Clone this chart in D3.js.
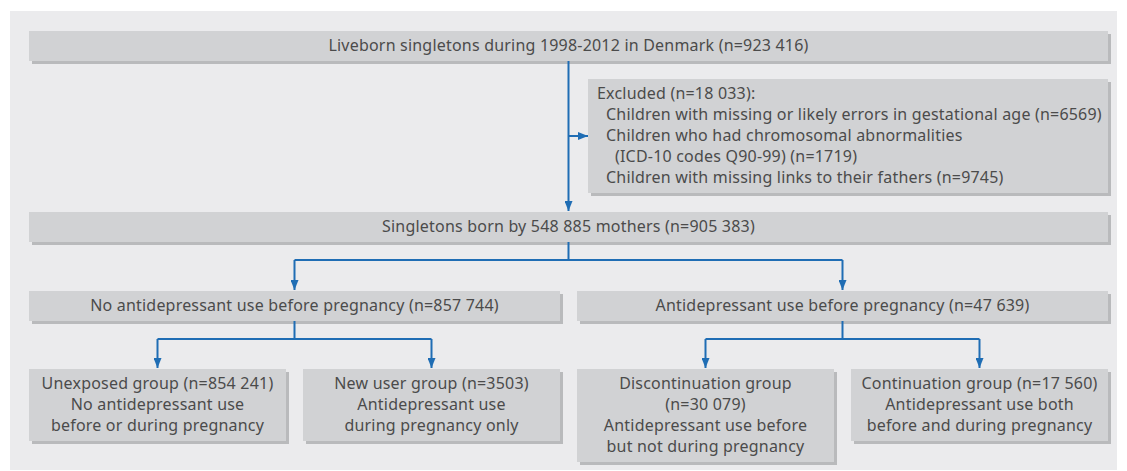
<!DOCTYPE html>
<html>
<head>
<meta charset="utf-8">
<script src="https://cdn.jsdelivr.net/npm/d3@7"></script>
<style>
  body { margin: 0; background: #fff; }
  text { font-family: "Noto Sans", sans-serif; font-size: 16px; letter-spacing: 0.2px; fill: #4b4b4b; }
</style>
</head>
<body>
<script>
// flowchart content
const cohortLabel = ["Liveborn singletons during 1998-2012 in Denmark (n=923 416)"];
const excludedLabel = [
  "Excluded (n=18 033):",
  "Children with missing or likely errors in gestational age (n=6569)",
  "Children who had chromosomal abnormalities",
  "(ICD-10 codes Q90-99) (n=1719)",
  "Children with missing links to their fathers (n=9745)"
];
const excludedIndent = [0, 1, 1, 2, 1];
const includedLabel = ["Singletons born by 548 885 mothers (n=905 383)"];
const beforeLabels = [
  ["No antidepressant use before pregnancy (n=857 744)"],
  ["Antidepressant use before pregnancy (n=47 639)"]
];
const groupLabels = [
  ["Unexposed group (n=854 241)", "No antidepressant use", "before or during pregnancy"],
  ["New user group (n=3503)", "Antidepressant use", "during pregnancy only"],
  ["Discontinuation group", "(n=30 079)", "Antidepressant use before", "but not during pregnancy"],
  ["Continuation group (n=17 560)", "Antidepressant use both", "before and during pregnancy"]
];

const W = 1127, H = 471;
const lineH = 21, gap = 17;
const blue = "#1f6db4";

const svg = d3.select("body").append("svg")
  .attr("width", W)
  .attr("height", H);

svg.append("defs").append("marker")
  .attr("id", "arr")
  .attr("viewBox", "0 0 10 8")
  .attr("refX", 10).attr("refY", 4)
  .attr("markerWidth", 10).attr("markerHeight", 8)
  .attr("markerUnits", "userSpaceOnUse")
  .attr("orient", "auto")
  .append("path")
  .attr("d", "M0,0L10,4L0,8Z")
  .attr("fill", blue);

// panel
svg.append("rect")
  .attr("x", 10).attr("y", 11)
  .attr("width", 1107).attr("height", 459)
  .attr("fill", "#ebebed");

// column units -> pixels
const x = d3.scaleLinear().domain([0, 4]).range([29, 1108 + gap]);
// row tops
const rowTop = d3.scaleOrdinal().domain([0, 1, 2, 3, 4]).range([31, 79, 212, 291, 369]);
const boxH = n => n * lineH + 9;

function box(lines, c0, c1, row, opts = {}) {
  const x0 = opts.x0 != null ? opts.x0 : x(c0);
  const x1 = x(c1) - gap;
  const y0 = rowTop(row);
  const h = boxH(lines.length);
  const g = svg.append("g");
  g.append("rect")
    .attr("x", x0 + 3).attr("y", y0 + 3)
    .attr("width", x1 - x0).attr("height", h)
    .attr("fill", "#b9babc");
  g.append("rect")
    .attr("x", x0).attr("y", y0)
    .attr("width", x1 - x0).attr("height", h)
    .attr("fill", "#d1d2d4");
  const left = opts.align === "left";
  g.selectAll("text")
    .data(lines)
    .join("text")
    .attr("x", (d, i) => left ? x0 + 9 + (opts.indent[i] * 9) : (x0 + x1) / 2)
    .attr("y", (d, i) => y0 + 4 + lineH * i + lineH / 2)
    .attr("dy", "0.35em")
    .attr("text-anchor", left ? "start" : "middle")
    .text(d => d);
  return { x0, x1, cx: (x0 + x1) / 2, y0, y1: y0 + h };
}

const b0 = box(cohortLabel, 0, 4, 0);
const bx = box(excludedLabel, 2, 4, 1, { x0: x(2) + 11, align: "left", indent: excludedIndent });
const b1 = box(includedLabel, 0, 4, 2);
const b2 = beforeLabels.map((l, i) => box(l, i * 2, i * 2 + 2, 3));
const b3 = groupLabels.map((l, i) => box(l, i, i + 1, 4));

const link = svg.append("g")
  .attr("fill", "none")
  .attr("stroke", blue)
  .attr("stroke-width", 2);

// main trunk and exclusion arrow
link.append("path")
  .attr("d", d3.line()([[b0.cx, b0.y1], [b0.cx, b1.y0 - 1]]))
  .attr("marker-end", "url(#arr)");
link.append("path")
  .attr("d", d3.line()([[b0.cx, (bx.y0 + bx.y1) / 2], [bx.x0, (bx.y0 + bx.y1) / 2]]))
  .attr("marker-end", "url(#arr)");

function split(parent, kids) {
  const my = parent.y1 + 18;
  link.append("path")
    .attr("d", d3.line()([[parent.cx, parent.y1], [parent.cx, my]]));
  link.append("path")
    .attr("d", d3.line()([[kids[0].cx, my], [kids[kids.length - 1].cx, my]]));
  kids.forEach(k => {
    link.append("path")
      .attr("d", d3.line()([[k.cx, my], [k.cx, k.y0 - 1]]))
      .attr("marker-end", "url(#arr)");
  });
}
split(b1, b2);
split(b2[0], b3.slice(0, 2));
split(b2[1], b3.slice(2, 4));
</script>
</body>
</html>
